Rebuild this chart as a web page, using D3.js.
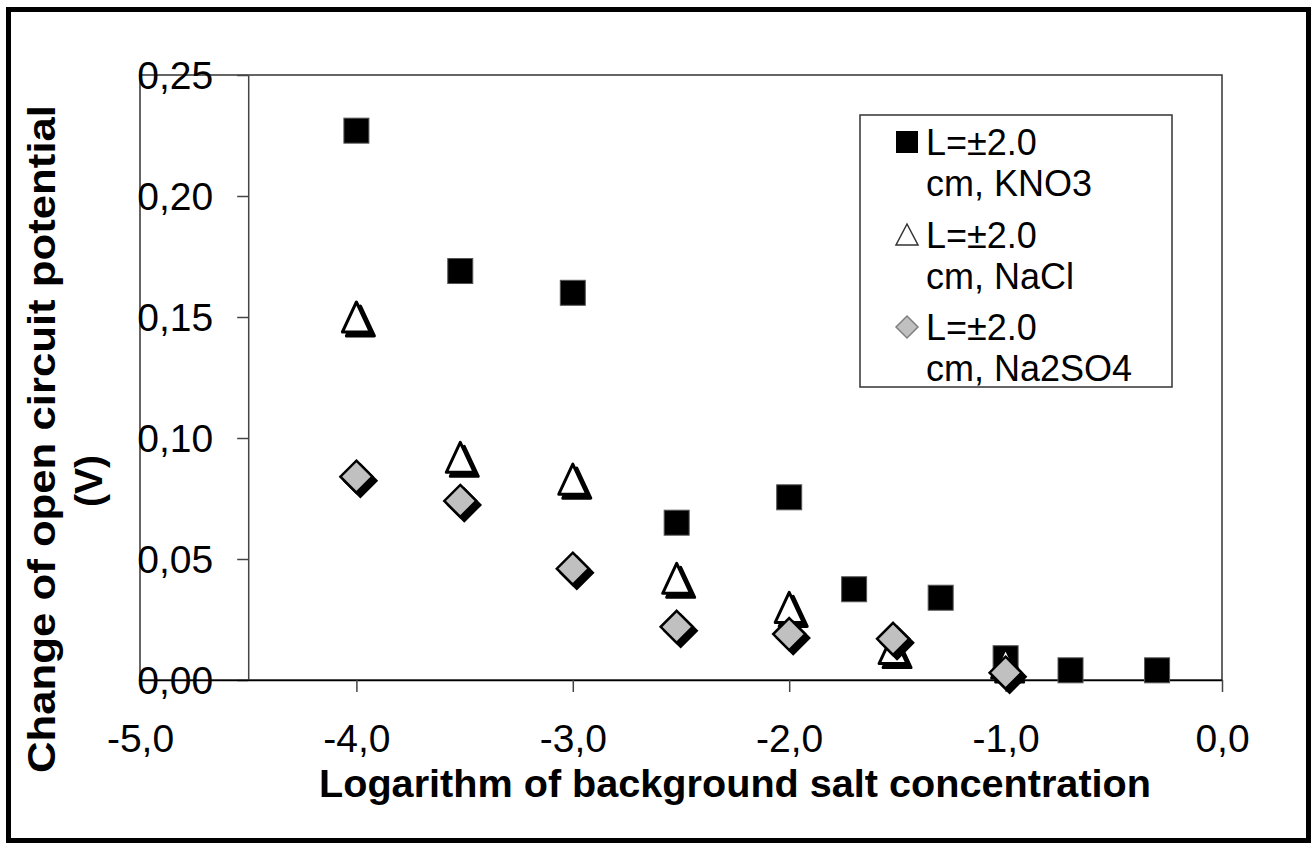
<!DOCTYPE html>
<meta charset="utf-8">
<style>
body { margin: 0; background: #fff; }
svg { display: block; font-family: "Liberation Sans", Arial, sans-serif; }
.axis text { font-size: 39px; fill: #000; }
.title { font-size: 39px; font-weight: bold; fill: #000; }
.legend text { font-size: 36px; fill: #000; }
</style>
<svg width="1312" height="846"></svg>
<script src="https://cdn.jsdelivr.net/npm/d3@7"></script>
<script>

// log10 of background salt concentration
var kno3X   = [-4, -3.52, -3, -2.52, -2, -1.7, -1.3, -1, -0.7, -0.3];
var kno3Y   = [0.227, 0.169, 0.160, 0.065, 0.0755, 0.0375, 0.034, 0.009, 0.004, 0.004];
var naclX   = [-4, -3.52, -3, -2.52, -2, -1.52, -1];
var naclY   = [0.150, 0.092, 0.083, 0.042, 0.030, 0.013, 0.007];
var na2so4X = [-4, -3.52, -3, -2.52, -2, -1.52, -1];
var na2so4Y = [0.084, 0.074, 0.046, 0.022, 0.019, 0.017, 0.003];

var xTicks = [-5, -4, -3, -2, -1, 0];
var yTicks = [0, 0.05, 0.10, 0.15, 0.20, 0.25];
var legendLines = [
  ["L=\u00b12.0", "cm, KNO3"],
  ["L=\u00b12.0", "cm, NaCl"],
  ["L=\u00b12.0", "cm, Na2SO4"]
];

var svg = d3.select("svg");

var x = d3.scaleLinear().domain([-5, 0]).range([140, 1222]);
var y = d3.scaleLinear().domain([0, 0.25]).range([680, 75]);

function comma(s) { return s.replace("\u2212", "-").replace(".", ","); }

// outer frame
svg.append("rect")
    .attr("x", 8.5).attr("y", 9.5)
    .attr("width", 1300).attr("height", 831)
    .attr("fill", "none").attr("stroke", "#000").attr("stroke-width", 5);

// plot area
svg.append("rect")
    .attr("x", x(-5)).attr("y", y(0.25))
    .attr("width", x(0) - x(-5)).attr("height", y(0) - y(0.25))
    .attr("fill", "none").attr("stroke", "#333").attr("stroke-width", 1.5);

// y axis crosses at -4.5
var gy = svg.append("g")
    .attr("class", "axis")
    .attr("transform", "translate(" + x(-4.5) + ",0)")
    .call(d3.axisLeft(y)
      .tickValues(yTicks)
      .tickSize(11)
      .tickSizeOuter(0)
      .tickPadding(24)
      .tickFormat(function(d) { return comma(d3.format(".2f")(d)); }));
gy.select(".domain").attr("stroke", "#444").attr("stroke-width", 1.5);
gy.selectAll(".tick line").attr("stroke", "#444").attr("stroke-width", 1.5);
gy.selectAll("text").attr("font-family", null).attr("font-size", null)
    .attr("dy", null).attr("y", 13);

var gx = svg.append("g")
    .attr("class", "axis")
    .attr("transform", "translate(0," + y(0) + ")")
    .call(d3.axisBottom(x)
      .tickValues(xTicks)
      .tickSize(12)
      .tickSizeOuter(0)
      .tickFormat(function(d) { return comma(d3.format(".1f")(d)); }));
gx.select(".domain").attr("stroke", "#000").attr("stroke-width", 1.5);
gx.selectAll(".tick line").attr("stroke", "#444").attr("stroke-width", 1.5)
    .attr("opacity", function(d) { return d === -5 ? 0 : 1; });
gx.selectAll("text").attr("font-family", null).attr("font-size", null)
    .attr("dy", null).attr("y", 72);

// axis titles
svg.append("text")
    .attr("class", "title")
    .attr("x", 735).attr("y", 797)
    .attr("text-anchor", "middle")
    .attr("textLength", 832)
    .attr("lengthAdjust", "spacingAndGlyphs")
    .text("Logarithm of background salt concentration");

svg.append("text")
    .attr("class", "title")
    .attr("transform", "translate(55,439) rotate(-90)")
    .attr("text-anchor", "middle")
    .attr("textLength", 668)
    .attr("lengthAdjust", "spacingAndGlyphs")
    .text("Change of open circuit potential");

svg.append("text")
    .attr("class", "title")
    .attr("transform", "translate(102,481) rotate(-90)")
    .attr("text-anchor", "middle")
    .text("(V)");

// marker shapes
var tri = "M0,-15L14,15L-14,15Z";
var dia = "M0,-16L16,0L0,16L-16,0Z";

function pts(xs, ys) { return xs.map(function(d, i) { return [d, ys[i]]; }); }

// KNO3 squares
svg.append("g").selectAll("rect")
  .data(pts(kno3X, kno3Y))
  .enter().append("rect")
    .attr("x", function(d) { return x(d[0]) - 12.5; })
    .attr("y", function(d) { return y(d[1]) - 12.5; })
    .attr("width", 25).attr("height", 25)
    .attr("fill", "#000").attr("stroke", "#555").attr("stroke-width", 1);

// NaCl triangles with shadow
var gt = svg.append("g").selectAll("g")
  .data(pts(naclX, naclY))
  .enter().append("g")
    .attr("transform", function(d) { return "translate(" + x(d[0]) + "," + y(d[1]) + ")"; });
gt.append("path").attr("d", tri).attr("transform", "translate(4,4)")
    .attr("fill", "#000").attr("stroke", "#000").attr("stroke-width", 3).attr("stroke-linejoin", "round");
gt.append("path").attr("d", tri)
    .attr("fill", "#fff").attr("stroke", "#000").attr("stroke-width", 3).attr("stroke-linejoin", "round");

// Na2SO4 diamonds with shadow
var gd = svg.append("g").selectAll("g")
  .data(pts(na2so4X, na2so4Y))
  .enter().append("g")
    .attr("transform", function(d) { return "translate(" + x(d[0]) + "," + y(d[1]) + ")"; });
gd.append("path").attr("d", dia).attr("transform", "translate(4,4)")
    .attr("fill", "#000").attr("stroke", "#000").attr("stroke-width", 2.5);
gd.append("path").attr("d", dia)
    .attr("fill", "#c0c0c0").attr("stroke", "#000").attr("stroke-width", 2.5);

// legend
var lg = svg.append("g").attr("class", "legend");
lg.append("rect")
    .attr("x", 860).attr("y", 115).attr("width", 312).attr("height", 272)
    .attr("fill", "#fff").attr("stroke", "#333").attr("stroke-width", 1.5);

var rowY = [155, 248, 340];
lg.append("rect").attr("x", 896).attr("y", rowY[0] - 24).attr("width", 22).attr("height", 22)
    .attr("fill", "#000");
lg.append("path").attr("d", "M907," + (rowY[1] - 24) + "L918," + (rowY[1] - 3) + "L896," + (rowY[1] - 3) + "Z")
    .attr("fill", "#fff").attr("stroke", "#333").attr("stroke-width", 1.5);
lg.append("path").attr("d", "M907," + (rowY[2] - 24) + "L918," + (rowY[2] - 13) + "L907," + (rowY[2] - 2) + "L896," + (rowY[2] - 13) + "Z")
    .attr("fill", "#c0c0c0").attr("stroke", "#808080").attr("stroke-width", 1.5);

legendLines.forEach(function(l, i) {
  lg.append("text").attr("x", 926).attr("y", rowY[i]).text(l[0]);
  lg.append("text").attr("x", 926).attr("y", rowY[i] + 41).text(l[1]);
});

</script>
